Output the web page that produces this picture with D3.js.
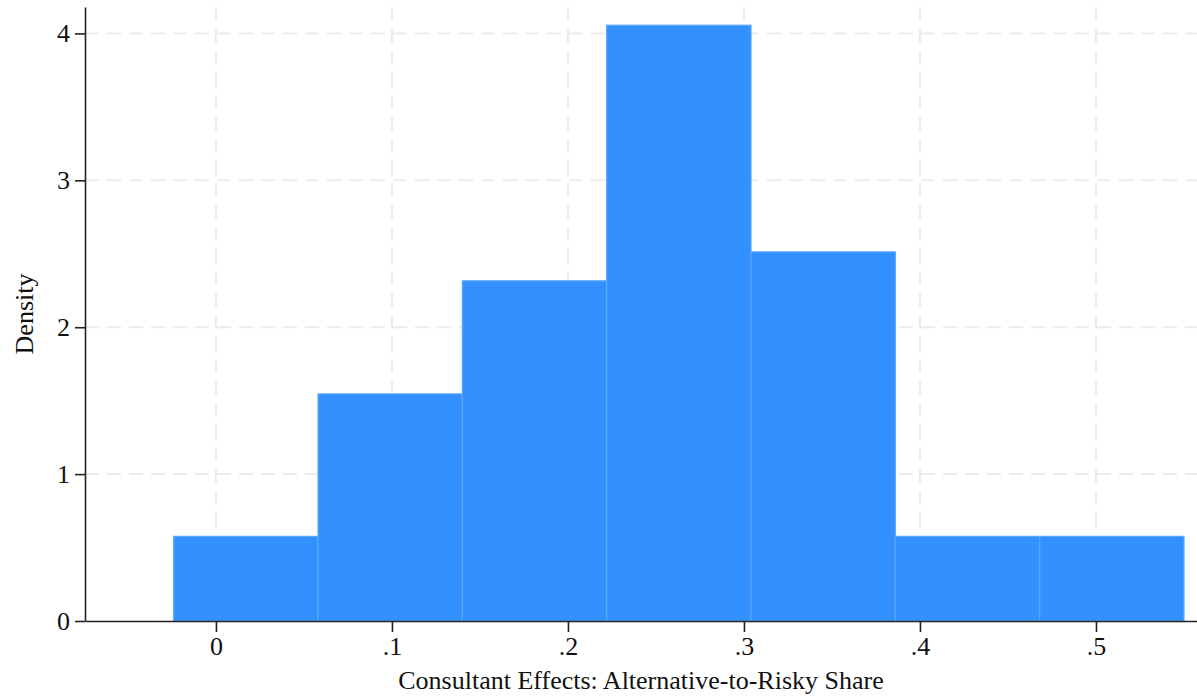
<!DOCTYPE html>
<html>
<head>
<meta charset="utf-8">
<script src="https://cdn.jsdelivr.net/npm/d3@7/dist/d3.min.js"></script>
<style>
  html, body { margin: 0; padding: 0; background: #fff; }
  text { font-family: "Liberation Serif", "Times New Roman", serif; fill: #111; }
</style>
</head>
<body>
<svg id="chart" width="1197" height="700"></svg>
<script>
// histogram bins (left edges, last value is the final right edge)
const binEdges = [-0.024, 0.058, 0.140, 0.222, 0.304, 0.386, 0.468, 0.550]
const densities = [0.576, 1.546, 2.316, 4.056, 2.513, 0.576, 0.576]
const xTicks = [0, 0.1, 0.2, 0.3, 0.4, 0.5]
const xTickLabels = ['0', '.1', '.2', '.3', '.4', '.5']
const yTicks = [0, 1, 2, 3, 4]
const xTitle = 'Consultant Effects: Alternative-to-Risky Share'
const yTitle = 'Density'

const plotLeft = 85, plotRight = 1197, plotTop = 7, plotBottom = 621
const fontSize = 26

const svg = d3.select('#chart')

const xScale = d3.scaleLinear()
    .domain([-0.0744, 0.5574])
    .range([plotLeft, plotRight])
const yScale = d3.scaleLinear()
    .domain([0, 4.18])
    .range([plotBottom, plotTop])

// grid
svg.append('g')
    .selectAll('line')
    .data(xTicks)
    .enter()
    .append('line')
    .attr('x1', d => xScale(d))
    .attr('x2', d => xScale(d))
    .attr('y1', plotTop)
    .attr('y2', plotBottom)
    .attr('stroke', '#ececec')
    .attr('stroke-width', 2)
    .attr('stroke-dasharray', '14,8')

svg.append('g')
    .selectAll('line')
    .data(yTicks.filter(d => d > 0))
    .enter()
    .append('line')
    .attr('x1', plotLeft)
    .attr('x2', plotRight)
    .attr('y1', d => yScale(d))
    .attr('y2', d => yScale(d))
    .attr('stroke', '#ececec')
    .attr('stroke-width', 2)
    .attr('stroke-dasharray', '14,8')

// bars
const bins = densities.map((d, i) => ({ x0: binEdges[i], x1: binEdges[i + 1], density: d }))

svg.append('g')
    .selectAll('rect')
    .data(bins)
    .enter()
    .append('rect')
    .attr('x', d => xScale(d.x0))
    .attr('width', d => xScale(d.x1) - xScale(d.x0))
    .attr('y', d => yScale(d.density))
    .attr('height', d => yScale(0) - yScale(d.density))
    .attr('fill', '#3391ff')
    .attr('stroke', '#5aa6ff')
    .attr('stroke-width', 1.2)

// axes
const xAxis = d3.axisBottom(xScale)
    .tickValues(xTicks)
    .tickFormat((d, i) => xTickLabels[i])
    .tickSize(11)
    .tickPadding(5)
    .tickSizeOuter(0)
const yAxis = d3.axisLeft(yScale)
    .tickValues(yTicks)
    .tickFormat(d3.format('d'))
    .tickSize(10)
    .tickPadding(5)
    .tickSizeOuter(0)

const gx = svg.append('g')
    .attr('transform', 'translate(0,' + plotBottom + ')')
    .call(xAxis)
gx.select('.domain').attr('stroke', '#222').attr('stroke-width', 1.6)
gx.selectAll('.tick line').attr('stroke', '#222').attr('stroke-width', 1.6)
gx.selectAll('.tick text').attr('font-size', fontSize).attr('font-family', null)

const gy = svg.append('g')
    .attr('transform', 'translate(' + plotLeft + ',0)')
    .call(yAxis)
gy.select('.domain').attr('stroke', '#222').attr('stroke-width', 1.6)
gy.selectAll('.tick line').attr('stroke', '#222').attr('stroke-width', 1.6)
gy.selectAll('.tick text').attr('font-size', fontSize).attr('font-family', null)

// titles
svg.append('text')
    .attr('x', (plotLeft + plotRight) / 2)
    .attr('y', 689)
    .attr('text-anchor', 'middle')
    .attr('font-size', fontSize)
    .text(xTitle)

svg.append('text')
    .attr('transform', 'translate(33,' + ((plotTop + plotBottom) / 2) + ') rotate(-90)')
    .attr('text-anchor', 'middle')
    .attr('font-size', fontSize)
    .text(yTitle)
</script>
</body>
</html>
